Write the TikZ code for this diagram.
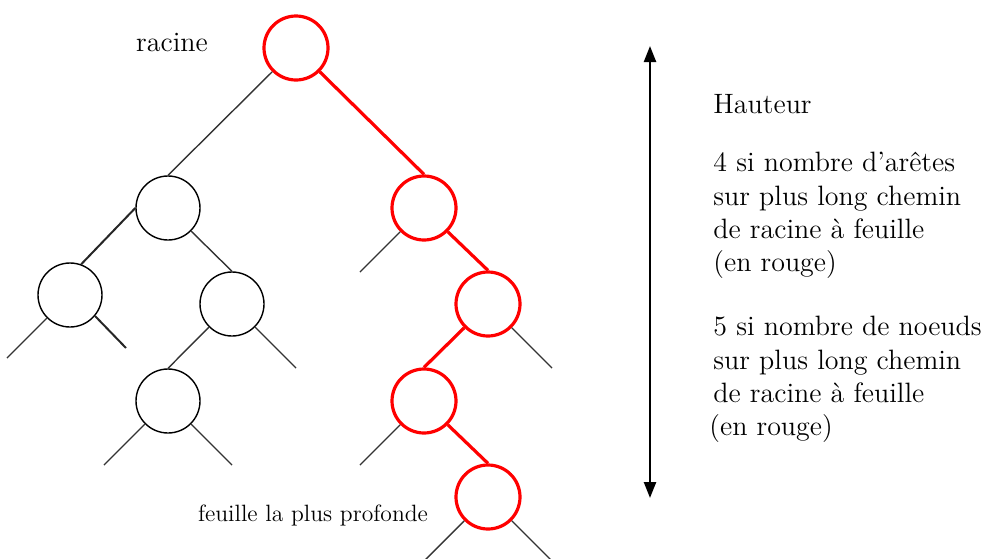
\documentclass[tikz,border=0pt]{standalone}
\usetikzlibrary{arrows.meta}
\tikzset{
  noeud/.style={circle, draw=black, line width=0.7pt, minimum size=32pt, inner sep=0pt},
  noeudr/.style={noeud, draw=red, line width=1.6pt},
  arc/.style={draw=black!80, line width=0.7pt},
  arcg/.style={draw=black!85, line width=1pt},
  arcr/.style={draw=red, line width=1.6pt},
  texte/.style={font=\fontsize{14}{16.6}\selectfont, inner sep=0pt}
}
\begin{document}
\begin{tikzpicture}[x=0.5pt, y=-0.5pt]
  \useasboundingbox (0,0) rectangle (992,558);
  % noeuds de l'arbre
  \node[noeudr] (rac) at (296,48) {};
  \node[noeud]  (g)   at (168,208) {};
  \node[noeudr] (d)   at (424,208) {};
  \node[noeud]  (gg)  at (70,295) {};
  \node[noeud]  (gd)  at (232,304) {};
  \node[noeud]  (gdg) at (168,401) {};
  \node[noeudr] (dd)  at (488,304) {};
  \node[noeudr] (ddg) at (424,401) {};
  \node[noeudr] (ddgd) at (488,497) {};
  % bouts de branches vides
  \coordinate (gg1)   at (7,358);
  \coordinate (gg2)   at (126,348);
  \coordinate (gd2)   at (296,368);
  \coordinate (gdg1)  at (104,465);
  \coordinate (gdg2)  at (232,465);
  \coordinate (d1)    at (360,272);
  \coordinate (dd2)   at (552,368);
  \coordinate (ddg1)  at (360,465);
  \coordinate (ddgd1) at (424,561);
  \coordinate (ddgd2) at (552,561);
  % aretes noires
  \draw[arc] (rac.south west) -- (g.north);
  \draw[arcg] (g.west) -- (gg.70);
  \draw[arc] (g.south east) -- (gd.north);
  \draw[arc] (gg.south west) -- (gg1);
  \draw[arcg] (gg.-40) -- (gg2);
  \draw[arc] (gd.south west) -- (gdg.north);
  \draw[arc] (gd.south east) -- (gd2);
  \draw[arc] (gdg.south west) -- (gdg1);
  \draw[arc] (gdg.south east) -- (gdg2);
  \draw[arc] (d.south west) -- (d1);
  \draw[arc] (dd.south east) -- (dd2);
  \draw[arc] (ddg.south west) -- (ddg1);
  \draw[arc] (ddgd.south west) -- (ddgd1);
  \draw[arc] (ddgd.south east) -- (ddgd2);
  % plus long chemin (en rouge)
  \draw[arcr] (rac.south east) -- (d.north);
  \draw[arcr] (d.south east) -- (dd.north);
  \draw[arcr] (dd.south west) -- (ddg.north);
  \draw[arcr] (ddg.south east) -- (ddgd.north);
  % hauteur
  \coordinate (haut) at (650,46);
  \coordinate (bas)  at (650,498);
  \draw[line width=1.2pt, {Triangle[length=8pt,width=6pt]}-{Triangle[length=8pt,width=6pt]}] (haut) -- (bas);
  % textes
  \node[texte] (racine) at (172,42) {racine};
  \node[texte, font=\fontsize{11.8}{14}\selectfont] (feuille) at (313,515) {feuille la plus profonde};
  \node[texte, anchor=base west] (hauteur) at (713,113) {Hauteur};
  \node[texte, anchor=north west, align=left] (aretes) at (713,152)
    {4 si nombre d'arêtes\\ sur plus long chemin\\ de racine à feuille\\ (en rouge)};
  \node[texte, anchor=north west, align=left] (noeuds) at (713,316)
    {5 si nombre de noeuds\\ sur plus long chemin\\ de racine à feuille\\ \hspace*{-2pt}(en rouge)};
\end{tikzpicture}
\end{document}
